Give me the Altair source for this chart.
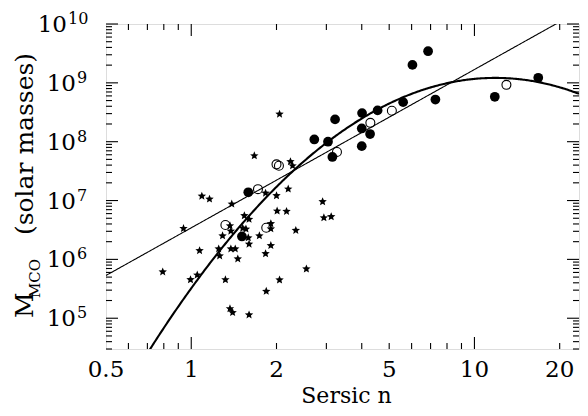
import altair as alt
import pandas as pd
import numpy as np

# ---------------- data ----------------
# filled circles
fc_n = [2.72, 3.04, 3.22, 3.15, 4.01, 4.00, 4.00, 4.28, 4.55, 5.60, 6.04, 6.86, 7.28, 11.8, 16.8, 1.59, 1.51]
fc_m = [1.09e8, 1.0e8, 2.39e8, 5.5e7, 3.06e8, 1.68e8, 8.4e7, 1.35e8, 3.40e8, 4.70e8, 2.02e9, 3.45e9, 5.2e8,
        5.8e8, 1.22e9, 1.38e7, 2.45e6]
# open circles
oc_n = [3.27, 4.29, 5.11, 12.97, 1.72, 1.32, 1.84, 2.00, 2.04]
oc_m = [6.7e7, 2.09e8, 3.35e8, 9.25e8, 1.56e7, 3.84e6, 3.45e6, 4.12e7, 3.90e7]
# stars
st_n = [2.05, 1.67, 2.24, 2.28, 1.09, 1.16, 1.39, 1.83, 2.00, 2.20, 0.939, 1.54, 1.60, 2.01, 2.17, 1.37,
        1.29, 1.38, 1.52, 1.56, 1.91, 1.91, 2.34, 1.74, 1.59, 1.60, 1.91, 1.25, 1.38, 1.43, 1.07, 1.26,
        1.46, 1.83, 0.793, 0.994, 1.05, 1.32, 2.05, 1.84, 1.37, 1.40, 1.60, 2.91, 2.94, 3.12, 2.55]
st_m = [2.94e8, 5.77e7, 4.59e7, 3.90e7, 1.19e7, 1.06e7, 8.73e6, 1.34e7, 1.21e7, 1.57e7, 3.35e6, 5.52e6,
        4.80e6, 6.64e6, 6.56e6, 3.73e6, 2.52e6, 3.03e6, 3.39e6, 3.28e6, 4.04e6, 3.31e6, 3.12e6, 2.52e6,
        2.33e6, 1.82e6, 1.72e6, 1.51e6, 1.51e6, 1.51e6, 1.41e6, 1.15e6, 1.02e6, 1.25e6, 6.15e5, 4.52e5,
        5.43e5, 4.51e5, 4.47e5, 2.87e5, 1.45e5, 1.25e5, 1.14e5, 9.55e6, 5.10e6, 5.31e6, 6.87e5]

# fitted relations: log M = a + b*log(n/3) (+ c*log(n/3)^2)
lin_coef = [7.82, 2.69]
quad_coef = [7.98, 3.70, -3.10]

x_labels = [0.5, 1, 2, 5, 10, 20]
x_label_text = ["0.5", "1", "2", "5", "10", "20"]
x_major = [1, 10]
x_minor = [0.6, 0.7, 0.8, 0.9, 2, 3, 4, 5, 6, 7, 8, 9, 20]
y_exps = [5, 6, 7, 8, 9, 10]
y_major = [10.0 ** k for k in y_exps]
y_minor = [m * 10.0 ** k for k in range(4, 10) for m in range(2, 10) if m * 10.0 ** k >= 3e4]

X_DOM = [0.5, 23.4]
Y_DOM = [3e4, 1e10]
W, H = 473, 325
FONT = "DejaVu Serif"

# ---------------- frames ----------------
fc = pd.DataFrame({"n": fc_n, "m": fc_m})
oc = pd.DataFrame({"n": oc_n, "m": oc_m})
st = pd.DataFrame({"n": st_n, "m": st_m})

grid = np.logspace(np.log10(X_DOM[0]), np.log10(X_DOM[1]), 400)
lg = np.log10(grid / 3.0)
lin_df = pd.DataFrame({"n": grid, "m": 10 ** (lin_coef[0] + lin_coef[1] * lg)})
quad_df = pd.DataFrame({"n": grid, "m": 10 ** (quad_coef[0] + quad_coef[1] * lg + quad_coef[2] * lg ** 2)})

xs = alt.Scale(type="log", domain=X_DOM, nice=False, zero=False)
ys = alt.Scale(type="log", domain=Y_DOM, nice=False, zero=False)

X = alt.X("n:Q", scale=xs, axis=None)
Y = alt.Y("m:Q", scale=ys, axis=None)
Xn = alt.X("n:Q", scale=xs)
Yn = alt.Y("m:Q", scale=ys)

star_path = ("M0,-1L0.265,-0.364L0.951,-0.309L0.428,0.139L0.588,0.809L0,0.45L-0.588,0.809"
             "L-0.428,0.139L-0.951,-0.309L-0.265,-0.364Z")

filled = alt.Chart(fc).mark_point(shape="circle", filled=True, color="black", size=95, opacity=1).encode(x=X, y=Y)
openc = alt.Chart(oc).mark_point(shape="circle", filled=False, color="black", size=80, strokeWidth=1.1,
                                 opacity=1).encode(x=Xn, y=Yn)
stars = alt.Chart(st).mark_point(shape=star_path, filled=True, color="black", size=78, opacity=1).encode(x=Xn, y=Yn)

lin_line = alt.Chart(lin_df).mark_line(color="black", strokeWidth=1.1, clip=True).encode(x=Xn, y=Yn, order="n:Q")
quad_line = alt.Chart(quad_df).mark_line(color="black", strokeWidth=2.1, clip=True).encode(x=Xn, y=Yn, order="n:Q")

# ticks (inward, on all four sides)
xmaj = pd.DataFrame({"n": x_major})
xmin = pd.DataFrame({"n": x_minor})
ymaj = pd.DataFrame({"m": y_major})
ymin = pd.DataFrame({"m": y_minor})
MAJ, MIN = 12, 6
tick_style = dict(color="black", strokeWidth=1.1)


def xticks(df, L):
    b = alt.Chart(df).mark_rule(**tick_style).encode(x=Xn, y=alt.value(H), y2=alt.value(H - L))
    t = alt.Chart(df).mark_rule(**tick_style).encode(x=Xn, y=alt.value(0), y2=alt.value(L))
    return [b, t]


def yticks(df, L):
    l = alt.Chart(df).mark_rule(**tick_style).encode(y=Yn, x=alt.value(0), x2=alt.value(L))
    r = alt.Chart(df).mark_rule(**tick_style).encode(y=Yn, x=alt.value(W), x2=alt.value(W - L))
    return [l, r]


ticks = xticks(xmaj, MAJ) + xticks(xmin, MIN) + yticks(ymaj, MAJ) + yticks(ymin, MIN)

# x tick labels
xlab = pd.DataFrame({"n": x_labels, "t": x_label_text})
xlab_layer = alt.Chart(xlab).mark_text(font=FONT, fontSize=23, align="center", baseline="alphabetic",
                                       color="black").encode(x=Xn, y=alt.value(H + 27.5), text="t:N")

# y tick labels 10^k
ylab = pd.DataFrame({"m": y_major, "base": ["10"] * len(y_exps), "exp": [str(k) for k in y_exps]})
lab_layers = []
for cond, ax in [("datum.m < 5e9", -30), ("datum.m > 5e9", -39)]:
    base = alt.Chart(ylab).transform_filter(cond)
    lab_layers.append(base.mark_text(font=FONT, fontSize=23, align="right", baseline="alphabetic", dy=8,
                                     color="black").encode(y=Yn, x=alt.value(ax), text="base:N"))
    lab_layers.append(base.mark_text(font=FONT, fontSize=16, align="left", baseline="alphabetic", dy=0,
                                     color="black").encode(y=Yn, x=alt.value(ax + 1), text="exp:N"))

# axis titles
ttl = pd.DataFrame({"t": ["M"], "s": ["MCO"], "r": ["(solar masses)"], "x": ["Sersic n"]})
t_main = alt.Chart(ttl).mark_text(font=FONT, fontSize=25, angle=270, align="left", baseline="alphabetic",
                                  color="black").encode(text="t:N", x=alt.value(-73), y=alt.value(294))
t_sub = alt.Chart(ttl).mark_text(font=FONT, fontSize=15, angle=270, align="left", baseline="alphabetic",
                                 color="black").encode(text="s:N", x=alt.value(-66), y=alt.value(274))
t_rest = alt.Chart(ttl).mark_text(font=FONT, fontSize=25, angle=270, align="center", baseline="alphabetic",
                                  color="black").encode(text="r:N", x=alt.value(-73), y=alt.value(120))
t_x = alt.Chart(ttl).mark_text(font=FONT, fontSize=22, align="center", baseline="alphabetic",
                               color="black").encode(text="x:N", x=alt.value(240.5), y=alt.value(H + 53.5))

chart = alt.layer(filled, openc, stars, lin_line, quad_line, *ticks, xlab_layer, *lab_layers,
                  t_main, t_sub, t_rest, t_x).properties(
    width=W, height=H,
    padding={"left": 98, "top": 16, "right": 1, "bottom": 59},
    autosize=alt.AutoSizeParams(type="none"),
).configure_view(stroke="#111", strokeWidth=1.5).configure(background="white")

chart.save("out.html", embed_options={"renderer": "svg", "actions": False})
